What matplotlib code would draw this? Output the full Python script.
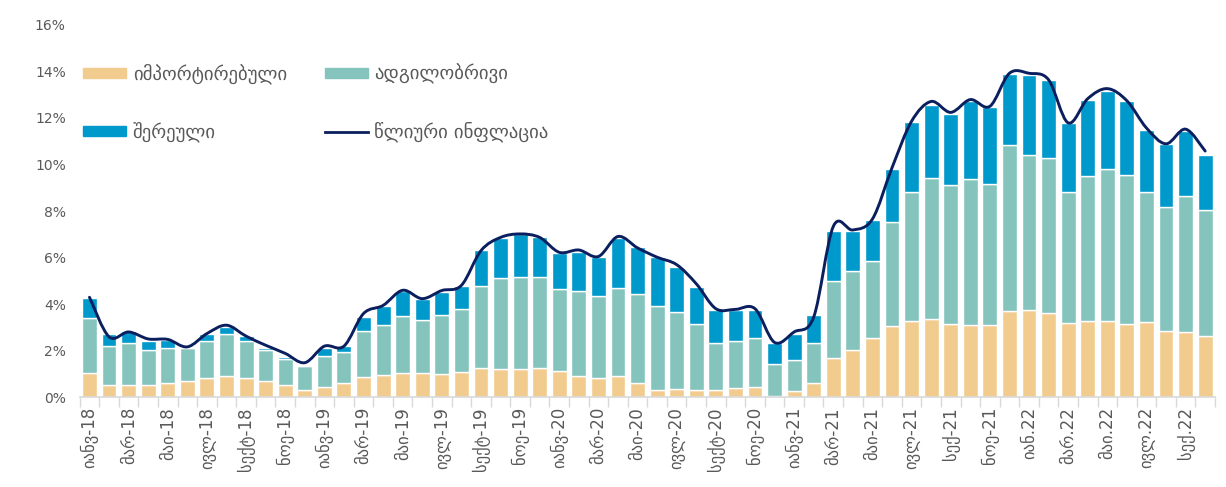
import numpy as np
import matplotlib.pyplot as plt
from matplotlib.path import Path
from matplotlib.patches import PathPatch, Patch
from matplotlib.lines import Line2D

# monthly, Jan 2018 - Oct 2022
imported = [1.03, 0.52, 0.52, 0.52, 0.63, 0.72, 0.82, 0.93, 0.82, 0.72, 0.52, 0.33,
            0.46, 0.63, 0.89, 0.95, 1.03, 1.03, 0.99, 1.08, 1.25, 1.22, 1.20, 1.25,
            1.13, 0.92, 0.82, 0.93, 0.61, 0.33, 0.38, 0.33, 0.31, 0.41, 0.46, 0.06,
            0.26, 0.63, 1.71, 2.03, 2.53, 3.07, 3.27, 3.38, 3.14, 3.10, 3.13, 3.70,
            3.74, 3.62, 3.20, 3.27, 3.28, 3.14, 3.24, 2.84, 2.80, 2.63]
domestic = [2.40, 1.69, 1.82, 1.52, 1.51, 1.41, 1.62, 1.81, 1.61, 1.32, 1.11, 1.00,
            1.33, 1.31, 1.95, 2.15, 2.47, 2.28, 2.54, 2.70, 3.53, 3.90, 3.99, 3.91,
            3.52, 3.67, 3.53, 3.78, 3.81, 3.61, 3.30, 2.82, 2.01, 2.00, 2.07, 1.36,
            1.33, 1.69, 3.28, 3.38, 3.32, 4.47, 5.55, 6.03, 5.98, 6.27, 6.05, 7.12,
            6.65, 6.67, 5.62, 6.24, 6.51, 6.41, 5.60, 5.34, 5.85, 5.41]
mixed = [0.82, 0.53, 0.49, 0.39, 0.32, 0.03, 0.30, 0.29, 0.21, 0.09, 0.09, 0.03,
         0.31, 0.26, 0.61, 0.81, 1.05, 0.90, 0.99, 1.00, 1.57, 1.71, 1.83, 1.71,
         1.55, 1.67, 1.70, 2.14, 2.05, 2.08, 1.94, 1.59, 1.42, 1.33, 1.21, 0.91,
         1.15, 1.21, 2.17, 1.75, 1.77, 2.28, 3.00, 3.16, 3.07, 3.34, 3.28, 3.06,
         3.46, 3.36, 2.95, 3.25, 3.38, 3.16, 2.63, 2.69, 2.81, 2.37]
inflation = [4.30, 2.60, 2.81, 2.51, 2.49, 2.17, 2.74, 3.10, 2.63, 2.24, 1.89, 1.49,
             2.20, 2.20, 3.60, 3.95, 4.60, 4.24, 4.59, 4.81, 6.30, 6.87, 7.02, 6.87,
             6.23, 6.33, 6.05, 6.91, 6.42, 6.02, 5.70, 4.88, 3.81, 3.78, 3.81, 2.36,
             2.81, 3.45, 7.34, 7.19, 7.66, 9.86, 11.86, 12.71, 12.24, 12.79, 12.50, 13.92,
             13.92, 13.64, 11.79, 12.83, 13.26, 12.74, 11.57, 10.89, 11.52, 10.58]

tick_labels = ["იანვ-18", "მარ-18", "მაი-18", "ივლ-18", "სექტ-18", "ნოე-18",
               "იანვ-19", "მარ-19", "მაი-19", "ივლ-19", "სექტ-19", "ნოე-19",
               "იანვ-20", "მარ-20", "მაი-20", "ივლ-20", "სექტ-20", "ნოე-20",
               "იანვ-21", "მარ-21", "მაი-21", "ივლ-21", "სექ-21", "ნოე-21",
               "იან.22", "მარ.22", "მაი.22", "ივლ.22", "სექ.22"]

c_imp = "#F2CB8F"
c_dom = "#85C4BD"
c_mix = "#0099CC"
c_line = "#0B1F5E"
grey = "#595959"

x = np.arange(len(imported))
imp = np.array(imported)
dom = np.array(domestic)
mix = np.array(mixed)

fig = plt.figure(figsize=(12.26, 4.87), dpi=100)
ax = fig.add_axes([0.065, 0.184, 0.926, 0.765])

w = 0.76
ax.bar(x, imp, w, color=c_imp, edgecolor="white", linewidth=1)
ax.bar(x, dom, w, bottom=imp, color=c_dom, edgecolor="white", linewidth=1)
ax.bar(x, mix, w, bottom=imp + dom, color=c_mix, edgecolor="white", linewidth=1)

# smoothed line (bezier through the monthly points)
y = np.array(inflation)
verts = [(x[0], y[0])]
codes = [Path.MOVETO]
n = len(y)
for i in range(n - 1):
    p0 = (x[i - 1], y[i - 1]) if i > 0 else (x[i], y[i])
    p3 = (x[i + 2], y[i + 2]) if i + 2 < n else (x[i + 1], y[i + 1])
    c1 = (x[i] + (x[i + 1] - p0[0]) / 6, y[i] + (y[i + 1] - p0[1]) / 6)
    c2 = (x[i + 1] - (p3[0] - x[i]) / 6, y[i + 1] - (p3[1] - y[i]) / 6)
    verts += [c1, c2, (x[i + 1], y[i + 1])]
    codes += [Path.CURVE4] * 3
ax.add_patch(PathPatch(Path(verts, codes), facecolor="none", edgecolor=c_line,
                       lw=2.1, capstyle="round", joinstyle="round", zorder=5))

ax.set_xlim(-0.5, len(x) - 0.5)
ax.set_ylim(0, 16)
ax.set_yticks(np.arange(0, 17, 2))
ax.set_yticklabels([f"{v}%" for v in range(0, 17, 2)], fontsize=10, color=grey)
ax.tick_params(axis="y", length=0, pad=10)

ax.set_xticks(x[::2])
ax.set_xticklabels(tick_labels, rotation=90, fontsize=12, color=grey)
ax.set_xticks(np.arange(-0.5, len(x), 1), minor=True)
ax.tick_params(axis="x", which="major", length=0, pad=7)
ax.tick_params(axis="x", which="minor", length=7, color="#D9D9D9", width=1)

for s in ["top", "right", "left"]:
    ax.spines[s].set_visible(False)
ax.spines["bottom"].set_color("#D9D9D9")
ax.spines["bottom"].set_linewidth(1.2)

handles = [Patch(color=c_imp), Patch(color=c_mix), Patch(color=c_dom),
           Line2D([], [], color=c_line, lw=2)]
labels = ["იმპორტირებული", "შერეული", "ადგილობრივი", "წლიური ინფლაცია"]
ax.legend(handles, labels, ncol=2, loc="upper left", bbox_to_anchor=(0.054, 0.904),
          bbox_transform=fig.transFigure, frameon=False, fontsize=13.5,
          handlelength=2.3, handleheight=0.45, labelspacing=2.0,
          columnspacing=2.0, handletextpad=0.35, labelcolor=grey)

fig.savefig("out.png", dpi=100)
